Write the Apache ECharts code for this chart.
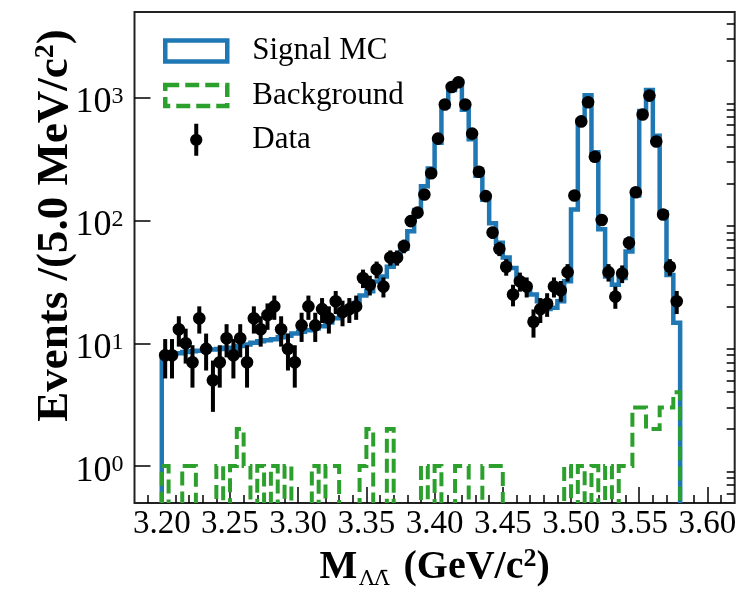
<!DOCTYPE html>
<html>
<head>
<meta charset="utf-8">
<script src="https://cdn.jsdelivr.net/npm/echarts@6/dist/echarts.min.js"></script>
<style>
  html, body { margin: 0; padding: 0; background: #fff; }
  #chart { width: 750px; height: 600px; }
</style>
</head>
<body>
<div id="chart"></div>
<script>
// histogram binning: 5 MeV bins from 3.20 to 3.58 GeV
var binStart = 3.20;
var binWidth = 0.005;

// data counts per bin
var dataCounts = [8, 8, 13, 10, 7, 16, 9, 5, 7, 11,
  8, 11, 7, 16, 13, 17, 20, 13, 9, 7,
  14, 20, 14, 19, 16, 22, 18, 19, 20, 34,
  30, 40, 29, 50, 50, 62, 99, 116, 163, 243,
  465, 881, 1225, 1337, 881, 511, 250, 158, 80, 59,
  42, 25, 32, 29, 15, 19, 21, 29, 27, 38,
  160, 642, 921, 331, 101, 38, 24, 37, 66, 170,
  731, 1042, 440, 112, 42, 22];

// signal MC (scaled) per bin
var mcCounts = [8.1, 8.1, 8.3, 8.5, 8.6, 8.7, 8.8, 8.9, 9.0, 9.2,
  9.0, 9.5, 9.8, 10.1, 10.4, 10.6, 10.8, 11.2, 11.5, 12.0,
  12.4, 12.8, 13.2, 13.8, 14.8, 16, 17.5, 19.5, 21.3, 24.5,
  26.5, 31.9, 35, 42, 50.8, 59, 82, 122, 190, 265,
  430, 850, 1160, 1360, 800, 460, 232, 148, 95, 66,
  50, 41, 33, 28, 25, 22, 19, 19.5, 22, 32,
  123, 660, 1050, 360, 85, 35, 30, 34, 56, 160,
  780, 1160, 490, 117, 36, 14.7];

// background per bin
var bkgCounts = [1, 0, 0, 1, 1, 0, 0, 0, 1, 0,
  1, 2, 1, 0, 1, 0, 1, 0, 1, 0,
  0, 0, 1, 0, 1, 1, 0, 0, 0, 1,
  2, 0, 0, 2, 0, 0, 0, 0, 1, 0,
  1, 0, 0, 1, 1, 0, 0, 1, 1, 1,
  0, 0, 0, 0, 0, 0, 0, 0, 0, 1,
  0, 1, 0, 1, 0, 1, 0, 1, 1, 3,
  3, 2, 2, 3, 3, 4];

var xMajorTicks = [3.20, 3.25, 3.30, 3.35, 3.40, 3.45, 3.50, 3.55, 3.60];
var yMajorTicks = [1, 10, 100, 1000];

var xMinorTicks = [];
for (var k = 319; k < 362; k++) {
  if (k % 5 !== 0) xMinorTicks.push(k / 100);
}
var yMinorTicks = [];
for (var d = -1; d <= 3; d++) {
  for (var m = 2; m <= 9; m++) {
    var t = m * Math.pow(10, d);
    if (t > 0.5 && t < 5000) yMinorTicks.push(+t.toPrecision(3));
  }
}

var FONT = 'Liberation Serif';
var FLOOR = 0.05; // empty bins drop below the axis

function binCenter(i) { return binStart + (i + 0.5) * binWidth; }

function stepRenderer(counts, style) {
  return function (params, api) {
    if (params.dataIndex !== 0) return null;
    var pts = [api.coord([binStart, FLOOR])];
    for (var i = 0; i < counts.length; i++) {
      var v = counts[i] > 0 ? counts[i] : FLOOR;
      pts.push(api.coord([binStart + i * binWidth, v]));
      pts.push(api.coord([binStart + (i + 1) * binWidth, v]));
    }
    pts.push(api.coord([binStart + counts.length * binWidth, FLOOR]));
    var cs = params.coordSys;
    return {
      type: 'group',
      clipPath: { type: 'rect', shape: { x: cs.x, y: cs.y, width: cs.width, height: cs.height } },
      children: [{ type: 'polyline', shape: { points: pts }, style: style }]
    };
  };
}

function toSeriesData(counts) {
  return counts.map(function (v, i) { return [binCenter(i), v > 0 ? v : FLOOR]; });
}

var chart = echarts.init(document.getElementById('chart'));

var option = {
  animation: false,
  backgroundColor: '#fff',
  grid: {
    left: 134.5, right: 15.3, top: 12, bottom: 97,
    show: true, borderColor: '#222', borderWidth: 2,
    outerBoundsMode: 'none'
  },
  legend: {
    orient: 'vertical',
    left: 163, top: 35,
    padding: 0,
    itemWidth: 62, itemHeight: 32, itemGap: 12.4,
    selectedMode: false,
    textStyle: { fontFamily: FONT, fontSize: 31, color: '#000', padding: [6, 0, 0, 20], lineHeight: 26 },
    data: [
      { name: 'Signal MC', icon: 'path://M0,0L62,0L62,21L0,21Z',
        itemStyle: { color: '#fff', borderColor: '#1f77b4', borderWidth: 4.5 } },
      { name: 'Background', icon: 'path://M0,0L62,0L62,21L0,21Z',
        itemStyle: { color: '#fff', borderColor: '#2ca02c', borderWidth: 4.5, borderType: [14, 6] } },
      { name: 'Data',
        icon: 'path://M4.15,0L8.15,0L8.15,11L4.15,11Z M4.15,21L8.15,21L8.15,32L4.15,32Z M0,16A6.15,6.15,0,1,1,12.3,16A6.15,6.15,0,1,1,0,16Z',
        itemStyle: { color: '#000', borderWidth: 0 } }
    ]
  },
  xAxis: [{
    type: 'value', min: 3.18, max: 3.62, position: 'bottom',
    axisLine: { show: false },
    splitLine: { show: false },
    axisTick: { inside: true, length: 16, customValues: xMajorTicks, lineStyle: { color: '#000', width: 1.5 } },
    axisLabel: {
      customValues: xMajorTicks, margin: 5,
      formatter: function (v) { return v.toFixed(2); },
      fontFamily: FONT, fontSize: 33, color: '#000'
    },
    name: '{m|M}{s|\u039B\u039B\u0304}{m| (GeV/c}{p|2}{m|)}',
    nameLocation: 'middle', nameGap: 35,
    nameTextStyle: {
      rich: {
        m: { fontFamily: FONT, fontWeight: 'bold', fontSize: 40, lineHeight: 44, color: '#000' },
        s: { fontFamily: 'DejaVu Serif', fontSize: 21, lineHeight: 24, verticalAlign: 'bottom', color: '#000', padding: [0, 4, 0, 2] },
        p: { fontFamily: FONT, fontWeight: 'bold', fontSize: 26, lineHeight: 22, verticalAlign: 'top', color: '#000' }
      }
    }
  }, {
    type: 'value', min: 3.18, max: 3.62, position: 'bottom',
    axisLine: { show: false },
    splitLine: { show: false },
    axisLabel: { show: false },
    axisTick: { inside: true, length: 8, customValues: xMinorTicks, lineStyle: { color: '#000', width: 1.5 } }
  }],
  yAxis: [{
    type: 'log', logBase: 10, min: 0.5, max: 5000,
    axisLine: { show: false },
    splitLine: { show: false },
    axisTick: { inside: true, length: 16, customValues: yMajorTicks, lineStyle: { color: '#000', width: 1.5 } },
    axisLabel: {
      customValues: yMajorTicks, margin: 11,
      formatter: function (v) { return '{b|10}{s|' + Math.round(Math.log10(v)) + '}'; },
      padding: [10, 0, 0, 0],
      rich: {
        b: { fontFamily: FONT, fontSize: 36, lineHeight: 36, color: '#000' },
        s: { fontFamily: FONT, fontSize: 24, lineHeight: 12, verticalAlign: 'top', color: '#000' }
      }
    },
    name: '{t|Events /(5.0 MeV/c}{p|2}{t|)}',
    nameLocation: 'middle', nameRotate: 90, nameGap: 55,
    nameMoveOverlap: false,
    nameTextStyle: {
      padding: [0, 0, 0, 64],
      rich: {
        t: { fontFamily: FONT, fontWeight: 'bold', fontSize: 45, lineHeight: 48, color: '#000' },
        p: { fontFamily: FONT, fontWeight: 'bold', fontSize: 28, lineHeight: 22, verticalAlign: 'top', color: '#000' }
      }
    }
  }, {
    type: 'log', logBase: 10, min: 0.5, max: 5000,
    axisLine: { show: false },
    splitLine: { show: false },
    axisLabel: { show: false },
    axisTick: { inside: true, length: 8, customValues: yMinorTicks, lineStyle: { color: '#000', width: 1.5 } }
  }],
  series: [{
    name: 'Signal MC',
    type: 'custom',
    xAxisIndex: 0, yAxisIndex: 0,
    data: toSeriesData(mcCounts),
    renderItem: stepRenderer(mcCounts, { fill: 'none', stroke: '#1f77b4', lineWidth: 4.5 }),
    z: 2
  }, {
    name: 'Background',
    type: 'custom',
    xAxisIndex: 0, yAxisIndex: 0,
    data: toSeriesData(bkgCounts),
    renderItem: stepRenderer(bkgCounts, { fill: 'none', stroke: '#2ca02c', lineWidth: 4, lineDash: [14, 6] }),
    z: 3
  }, {
    name: 'Data',
    type: 'custom',
    xAxisIndex: 0, yAxisIndex: 0,
    data: dataCounts.map(function (v, i) { return [binCenter(i), v]; }),
    renderItem: function (params, api) {
      var x = api.value(0), v = api.value(1), e = Math.sqrt(v);
      var c = api.coord([x, v]);
      var hi = api.coord([x, v + e]);
      var lo = api.coord([x, v - e]);
      return {
        type: 'group',
        children: [
          { type: 'line', shape: { x1: c[0], y1: hi[1], x2: c[0], y2: lo[1] }, style: { stroke: '#000', lineWidth: 4 } },
          { type: 'circle', shape: { cx: c[0], cy: c[1], r: 6.3 }, style: { fill: '#000' } }
        ]
      };
    },
    z: 4
  }]
};

chart.setOption(option);
</script>
</body>
</html>
